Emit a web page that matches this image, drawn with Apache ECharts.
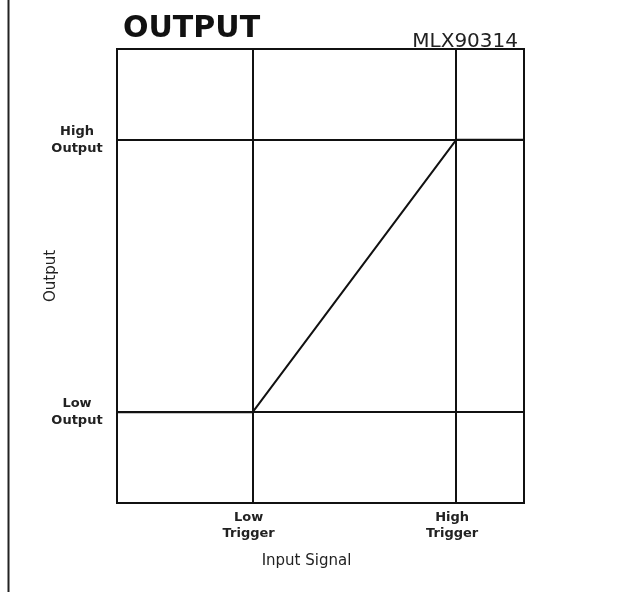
<!DOCTYPE html>
<html>
<head>
<meta charset="utf-8">
<script src="https://cdn.jsdelivr.net/npm/echarts@6/dist/echarts.min.js"></script>
<style>html,body{margin:0;padding:0;background:#fff}#c{width:621px;height:592px}</style>
</head>
<body>
<div id="c"></div>
<script>
// Data
const inputSignal = [0, 2, 5, 6];
const outputValues = [1, 1, 4, 4];
const xTickValues = [2, 5];
const xTickLabels = ['Low\nTrigger', 'High\nTrigger'];
const yTickValues = [1, 4];
const yTickLabels = ['Low\nOutput', 'High\nOutput'];
const xRange = [0, 6];
const yRange = [0, 5];

const FONT = '"DejaVu Sans", Arial, sans-serif';
const chart = echarts.init(document.getElementById('c'), null, {renderer: 'canvas'});

const lineData = inputSignal.map((x, i) => [x, outputValues[i]]);
const markData = xTickValues.map(v => ({xAxis: v})).concat(yTickValues.map(v => ({yAxis: v})));

chart.setOption({
  backgroundColor: '#fff',
  animation: false,
  title: [
    {text: 'OUTPUT', left: 123, top: 14, padding: 0,
     textStyle: {fontFamily: FONT, fontSize: 30, fontWeight: 'bold', color: '#111'}},
    {text: 'MLX90314', right: 103, top: 32, padding: 0,
     textStyle: {fontFamily: FONT, fontSize: 20, fontWeight: 'normal', color: '#222'}}
  ],
  graphic: [
    {type: 'line', shape: {x1: 8.5, y1: 0, x2: 8.5, y2: 592}, style: {stroke: '#222', lineWidth: 2}}
  ],
  grid: {left: 117, top: 49, width: 407, height: 454, show: true, borderColor: '#111', borderWidth: 2, backgroundColor: 'transparent'},
  xAxis: {
    type: 'value', min: xRange[0], max: xRange[1], interval: 1,
    axisLine: {show: false}, axisTick: {show: false}, splitLine: {show: false},
    axisLabel: {
      margin: 7, fontFamily: FONT, fontSize: 13, fontWeight: 'bold', color: '#222', lineHeight: 16,
      padding: [0, 8, 0, 0],
      formatter: v => { const i = xTickValues.indexOf(v); return i >= 0 ? xTickLabels[i] : ''; }
    },
    name: 'Input Signal', nameLocation: 'middle', nameGap: 51, nameMoveOverlap: false,
    nameTextStyle: {fontFamily: FONT, fontSize: 15, color: '#222', padding: [0, 28, 0, 0]}
  },
  yAxis: {
    type: 'value', min: yRange[0], max: yRange[1], interval: 1,
    axisLine: {show: false}, axisTick: {show: false}, splitLine: {show: false},
    axisLabel: {
      margin: 40, align: 'center', fontFamily: FONT, fontSize: 13, fontWeight: 'bold', color: '#222', lineHeight: 17,
      formatter: v => { const i = yTickValues.indexOf(v); return i >= 0 ? yTickLabels[i] : ''; }
    },
    name: 'Output', nameLocation: 'middle', nameGap: 58, nameMoveOverlap: false,
    nameTextStyle: {fontFamily: FONT, fontSize: 15, color: '#222'}
  },
  series: [{
    type: 'line', data: lineData, showSymbol: false, symbol: 'none',
    lineStyle: {color: '#111', width: 2},
    markLine: {
      silent: true, symbol: 'none', label: {show: false},
      lineStyle: {color: '#111', width: 2, type: 'solid'},
      data: markData
    }
  }]
});
</script>
</body>
</html>
